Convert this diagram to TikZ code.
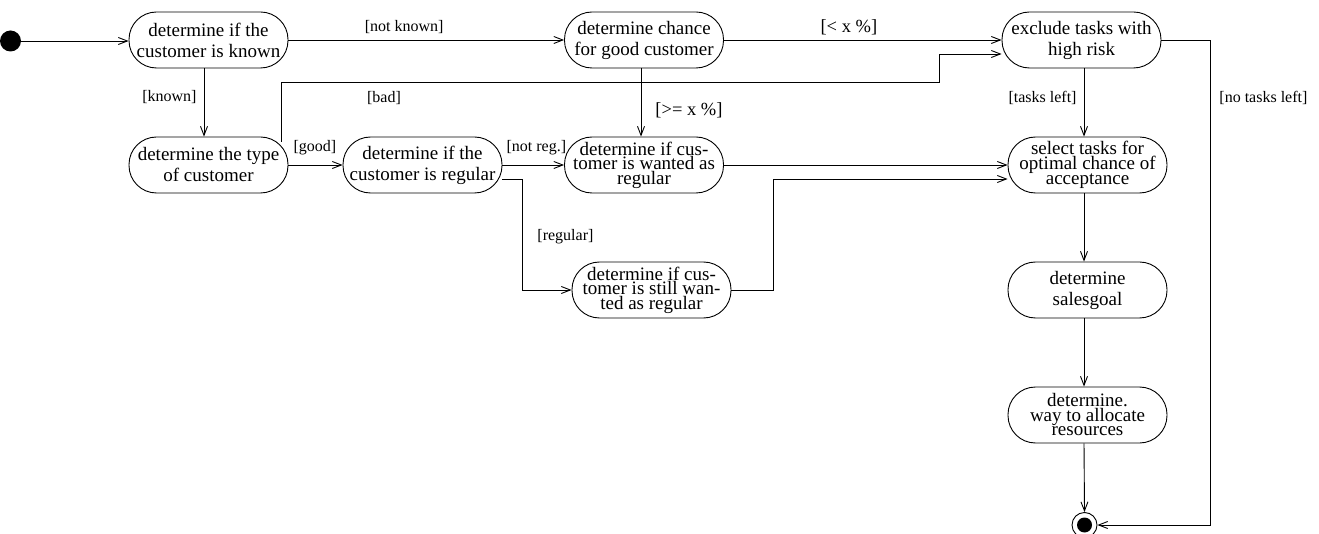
\documentclass[tikz,border=0pt]{standalone}
\usepackage{fontspec}
\setmainfont{Liberation Serif}
\usetikzlibrary{arrows.meta,calc}

\begin{document}
\begin{tikzpicture}[x=1pt,y=-1pt,
  activity/.style={draw, line width=0.9pt, rounded corners=27.5pt,
    minimum width=159pt, minimum height=56pt, inner sep=0pt, align=center,
    font=\fontsize{19}{21}\selectfont},
  tight/.style={font=\fontsize{19}{14.5}\selectfont},
  flow/.style={draw, line width=0.9pt, -{Straight Barb[length=9pt,width=7pt]}},
  guard/.style={font=\fontsize{16}{18}\selectfont, inner sep=0pt},
  bigguard/.style={font=\fontsize{18.5}{20}\selectfont, inner sep=0pt}]

\useasboundingbox (0,0) rectangle (1319,534);

% activities
\node[activity] (A) at (208.5,40) {determine if the\\customer is known};
\node[activity] (B) at (644,40) {determine chance\\for good customer};
\node[activity] (C) at (1081.5,40) {exclude tasks with\\high risk};
\node[activity] (D) at (208.5,165) {determine the type\\of customer};
\node[activity] (E) at (422.5,165) {determine if the\\customer is regular};
\node[activity,tight] (F) at (644,165) {determine if cus-\\tomer is wanted as\\regular};
\node[activity,tight] (G) at (1087.5,165) {select tasks for\\optimal chance of\\acceptance};
\node[activity,tight] (H) at (651.5,290) {determine if cus-\\tomer is still wan-\\ted as regular};
\node[activity] (I) at (1087.5,290) {determine\\salesgoal};
\node[activity,tight] (J) at (1087.5,415) {determine.\\way to allocate\\resources};

% initial and final states
\node[circle, fill=black, minimum size=21pt, inner sep=0pt] (S) at (10.5,41) {};
\node[circle, draw, line width=0.9pt, minimum size=25pt, inner sep=0pt] (T) at (1084.5,525) {};
\node[circle, fill=black, minimum size=15pt, inner sep=0pt] (Tdot) at (T) {};

% routing columns
\coordinate (ax) at (204,0);
\coordinate (bx) at (641,0);
\coordinate (cx) at (1084,0);
\coordinate (nx) at (1210,0);
\coordinate (regx) at (522,0);
\coordinate (hgx) at (773,0);
\coordinate (badc) at (939,82);

% transitions
\draw[flow] (S) -- (A.west |- S);
\draw[flow] (A) -- node[guard, above=6pt, pos=0.42] {[not known]} (B);
\draw[flow] (B) -- node[bigguard, above=5pt, pos=0.45] {[< x \%]} (C);
\draw[flow] (A.south -| ax) -- node[guard, left=7pt, pos=0.42] {[known]} (D.north -| ax);
\draw[flow] (D) -- node[guard, above=10pt, pos=0.49] {[good]} (E);
\draw[flow] ($(D.east)+(-7,-23)$) |- node[guard, pos=0.578, below=9pt] {[bad]} (badc)
  |- ($(C.west)+(0,14)$);
\draw[flow] (B.south -| bx) -- node[bigguard, right=14pt, pos=0.62] {[>= x \%]} (F.north -| bx);
\draw[flow] (E) -- node[guard, above=10pt, pos=0.55] {[not reg.]} (F);
\draw[flow] ($(E.east)+(0,14)$) -| node[guard, pos=0.76, right=15pt] {[regular]} (H.west -| regx)
  -- (H.west);
\draw[flow] (F) -- (G);
\draw[flow] (H.east) -- (H.east -| hgx) |- ($(G.west)+(0,14)$);
\draw[flow] (C.south -| cx) -- node[guard, left=7pt, pos=0.43] {[tasks left]} (G.north -| cx);
\draw[flow] (G.south -| cx) -- (I.north -| cx);
\draw[flow] (I.south -| cx) -- (J.north -| cx);
\draw[flow] (J.south -| cx) -- (T.north);
\draw[flow] (C.east) -| node[guard, pos=0.56, right=9pt] {[no tasks left]} (T -| nx) -- (T.east);

\end{tikzpicture}
\end{document}
